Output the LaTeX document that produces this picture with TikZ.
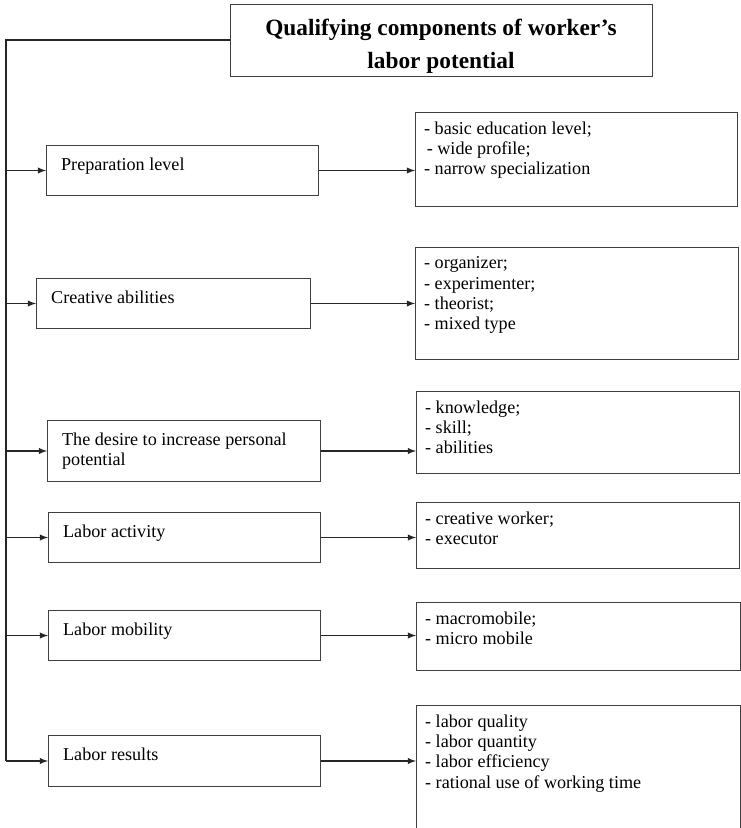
\documentclass[tikz,border=0pt]{standalone}
\usepackage{fontspec}
\setmainfont{Liberation Serif}
\usepackage{tikz}
\usetikzlibrary{positioning}

\tikzset{
  lbox/.style={draw=black!75, line width=0.75pt, anchor=north west, inner xsep=11pt, inner ysep=9pt,
    font=\fontsize{13.6}{15.4}\selectfont},
  rbox/.style={draw=black!75, line width=0.75pt, anchor=north west, inner xsep=6.5pt, inner ysep=7pt,
    font=\fontsize{13.6}{15.2}\selectfont},
  link/.style={->, >=latex, line width=1.1pt, black!85}
}

\begin{document}
\begin{tikzpicture}[x=0.75pt, y=-0.75pt]
         \useasboundingbox (0,0) rectangle (741,828);
         % title
         \node (T) [draw=black!75, line width=0.75pt, inner xsep=0pt, inner ysep=11pt,
           font=\fontsize{17.5}{25}\selectfont\bfseries] at (441,40)
           {\parbox[t][32pt][t]{316.5pt}{\centering Qualifying components of worker’s\\ labor potential}};
         % components
         \node (L1) [lbox] at (46,145) {\parbox[t][19.5pt][t]{182pt}{\raggedright Preparation level}};
         \node (L2) [lbox] at (36,278) {\parbox[t][19.5pt][t]{183.5pt}{\raggedright Creative abilities}};
         \node (L3) [lbox] at (47,420) {\parbox[t][27.75pt][t]{182.75pt}{\raggedright The desire to increase personal potential}};
         \node (L4) [lbox] at (48,512) {\parbox[t][19.5pt][t]{182pt}{\raggedright Labor activity}};
         \node (L5) [lbox] at (48,610) {\parbox[t][19.5pt][t]{182pt}{\raggedright Labor mobility}};
         \node (L6) [lbox] at (48,735) {\parbox[t][20.25pt][t]{182pt}{\raggedright Labor results}};
         % their contents
         \node (R1) [rbox] at (415,112) {\parbox[t][56.5pt][t]{228.5pt}{\raggedright - basic education level;\\ \hspace*{2pt}- wide profile;\\ - narrow specialization}};
         \node (R2) [rbox] at (415,247) {\parbox[t][70pt][t]{229.25pt}{\raggedright - organizer;\\ - experimenter;\\ - theorist;\\ - mixed type}};
         \node (R3) [rbox] at (416,391) {\parbox[t][47.5pt][t]{229.25pt}{\raggedright - knowledge;\\ - skill;\\ - abilities}};
         \node (R4) [rbox] at (416,502) {\parbox[t][35.5pt][t]{229.25pt}{\raggedright - creative worker;\\ - executor}};
         \node (R5) [rbox] at (416,602) {\parbox[t][37pt][t]{230pt}{\raggedright - macromobile;\\ - micro mobile}};
         \node (R6) [rbox] at (416,705) {\parbox[t][81.25pt][t]{230pt}{\raggedright - labor quality\\ - labor quantity\\ - labor efficiency\\ - rational use of working time}};
         % trunk
         \coordinate (top) at (6,40);
         \draw [line width=0.9pt, black!85] (T.west) -- (top) -- (L6.west -| top);
         \draw [link] (L1.west -| top) -- (L1.west);
         \draw [link] (L2.west -| top) -- (L2.west);
         \draw [link] (L3.west -| top) -- (L3.west);
         \draw [link] (L4.west -| top) -- (L4.west);
         \draw [link] (L5.west -| top) -- (L5.west);
         \draw [link] (L6.west -| top) -- (L6.west);
         \draw [link] (L1.east) -- (L1.east -| R1.west);
         \draw [link] (L2.east) -- (L2.east -| R2.west);
         \draw [link] (L3.east) -- (L3.east -| R3.west);
         \draw [link] (L4.east) -- (L4.east -| R4.west);
         \draw [link] (L5.east) -- (L5.east -| R5.west);
         \draw [link] (L6.east) -- (L6.east -| R6.west);
\end{tikzpicture}
\end{document}
